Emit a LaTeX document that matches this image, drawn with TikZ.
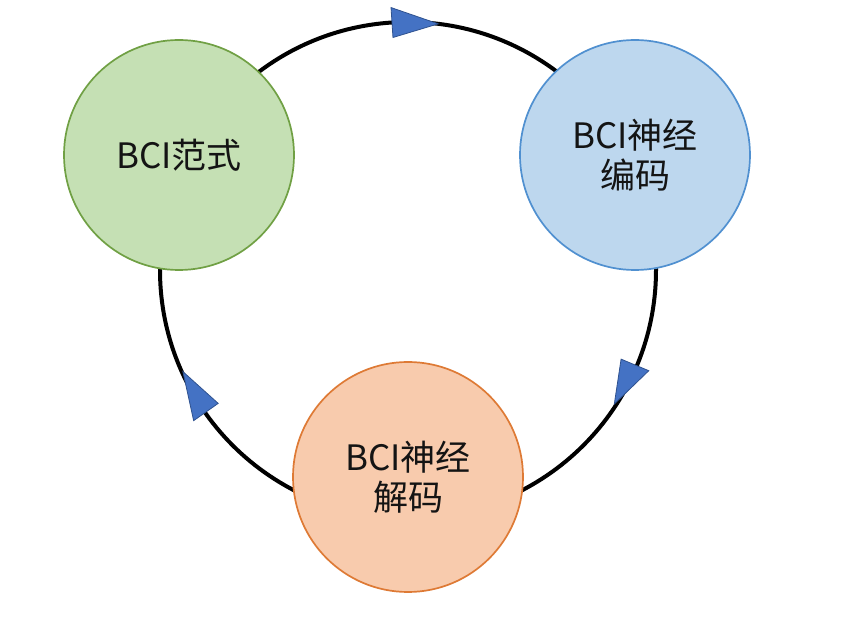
\documentclass[tikz,border=0pt]{standalone}
\usepackage{fontspec}
\setmainfont{Noto Sans CJK SC}
\usetikzlibrary{calc}
\definecolor{gfill}{HTML}{C5E0B4}
\definecolor{gdraw}{HTML}{70A044}
\definecolor{bfill}{HTML}{BDD7EE}
\definecolor{bdraw}{HTML}{5090D0}
\definecolor{ofill}{HTML}{F8CBAD}
\definecolor{odraw}{HTML}{DE7A35}
\definecolor{afill}{HTML}{4472C4}
\definecolor{adraw}{HTML}{2F528F}
\definecolor{txt}{HTML}{141414}
\tikzset{
  bubble/.style={circle, minimum size=230pt, inner sep=0pt, line width=1.7pt,
    align=center, text=txt, font=\fontsize{35pt}{40pt}\selectfont},
  ring/.style={line width=4pt, black},
  arrowtri/.style={fill=afill, draw=adraw, line width=0.8pt, line join=miter}
}
\begin{document}
\begin{tikzpicture}[x=1pt,y=1pt]
\useasboundingbox (0,0) rectangle (855,627);
\coordinate (C) at (408,357);
\draw[ring] (C) circle[radius=248pt];
% arrowheads on the ring (clockwise)
\draw[arrowtri] ($(C)+(83:248pt)$) -- ($(C)+(93.7:233pt)$) -- ($(C)+(93.7:263pt)$) -- cycle;
\draw[arrowtri] ($(C)+(-33:246pt)$) -- ($(C)+(-22.7:231pt)$) -- ($(C)+(-22.7:261pt)$) -- cycle;
\draw[arrowtri] ($(C)+(204.3:247pt)$) -- ($(C)+(215.1:232pt)$) -- ($(C)+(215.1:262pt)$) -- cycle;
% nodes
\node[bubble, fill=gfill, draw=gdraw] (g) at (179,472) {BCI范式};
\node[bubble, fill=bfill, draw=bdraw] (b) at (635,472) {BCI神经\\编码};
\node[bubble, fill=ofill, draw=odraw] (o) at (408,150) {BCI神经\\解码};
\end{tikzpicture}
\end{document}
